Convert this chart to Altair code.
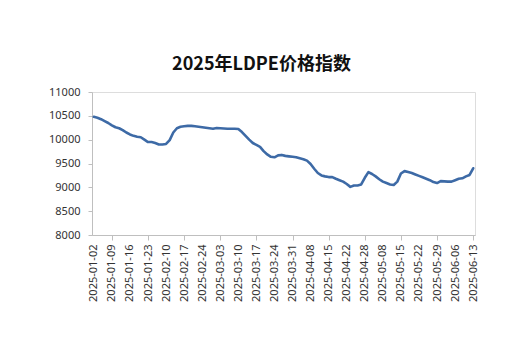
import json
import altair as alt
import pandas as pd

title_text = "2025年LDPE价格指数"

dates = [
    "2025-01-02", "2025-01-03", "2025-01-06", "2025-01-07", "2025-01-08",
    "2025-01-09", "2025-01-10", "2025-01-13", "2025-01-14", "2025-01-15",
    "2025-01-16", "2025-01-17", "2025-01-20", "2025-01-21", "2025-01-22",
    "2025-01-23", "2025-01-24", "2025-01-27", "2025-02-06", "2025-02-07",
    "2025-02-10", "2025-02-11", "2025-02-12", "2025-02-13", "2025-02-14",
    "2025-02-17", "2025-02-18", "2025-02-19", "2025-02-20", "2025-02-21",
    "2025-02-24", "2025-02-25", "2025-02-26", "2025-02-27", "2025-02-28",
    "2025-03-03", "2025-03-04", "2025-03-05", "2025-03-06", "2025-03-07",
    "2025-03-10", "2025-03-11", "2025-03-12", "2025-03-13", "2025-03-14",
    "2025-03-17", "2025-03-18", "2025-03-19", "2025-03-20", "2025-03-21",
    "2025-03-24", "2025-03-25", "2025-03-26", "2025-03-27", "2025-03-28",
    "2025-03-31", "2025-04-01", "2025-04-02", "2025-04-03", "2025-04-07",
    "2025-04-08", "2025-04-09", "2025-04-10", "2025-04-11", "2025-04-14",
    "2025-04-15", "2025-04-16", "2025-04-17", "2025-04-18", "2025-04-21",
    "2025-04-22", "2025-04-23", "2025-04-24", "2025-04-25", "2025-04-27",
    "2025-04-28", "2025-04-29", "2025-04-30", "2025-05-06", "2025-05-07",
    "2025-05-08", "2025-05-09", "2025-05-12", "2025-05-13", "2025-05-14",
    "2025-05-15", "2025-05-16", "2025-05-19", "2025-05-20", "2025-05-21",
    "2025-05-22", "2025-05-23", "2025-05-26", "2025-05-27", "2025-05-28",
    "2025-05-29", "2025-05-30", "2025-06-03", "2025-06-04", "2025-06-05",
    "2025-06-06", "2025-06-09", "2025-06-10", "2025-06-11", "2025-06-12",
    "2025-06-13",
]

index_values = [
    10480, 10460, 10430, 10390, 10350,
    10300, 10260, 10240, 10200, 10150,
    10110, 10080, 10060, 10050, 10000,
    9950, 9950, 9930, 9900, 9900,
    9910, 9990, 10150, 10240, 10270,
    10280, 10290, 10290, 10280, 10270,
    10260, 10250, 10240, 10230, 10245,
    10240, 10235, 10230, 10230, 10230,
    10225, 10160, 10080, 10000, 9930,
    9890, 9850, 9760, 9690, 9640,
    9630, 9670, 9680, 9660, 9650,
    9640, 9630, 9610, 9590, 9560,
    9490, 9390, 9300, 9250, 9230,
    9215, 9215, 9180, 9150, 9120,
    9070, 9010, 9040, 9040, 9060,
    9200, 9320, 9280, 9230, 9170,
    9120, 9090, 9060, 9050, 9120,
    9290, 9340, 9320, 9300, 9270,
    9240, 9210, 9180, 9150, 9110,
    9090, 9130, 9125, 9120, 9120,
    9150, 9180, 9190, 9230, 9260,
    9400,
]

label_dates = [
    "2025-01-02", "2025-01-09", "2025-01-16", "2025-01-23", "2025-02-10",
    "2025-02-17", "2025-02-24", "2025-03-03", "2025-03-10", "2025-03-17",
    "2025-03-24", "2025-03-31", "2025-04-08", "2025-04-15", "2025-04-22",
    "2025-04-28", "2025-05-08", "2025-05-15", "2025-05-22", "2025-05-29",
    "2025-06-06", "2025-06-13",
]

tick_dates = [
    "2025-01-09", "2025-01-23", "2025-02-17", "2025-03-03", "2025-03-17",
    "2025-03-31", "2025-04-15", "2025-04-28", "2025-05-15", "2025-05-29",
    "2025-06-13",
]

y_ticks = [8000, 8500, 9000, 9500, 10000, 10500, 11000]

df = pd.DataFrame({"date": dates, "value": index_values})

tick_test = "indexof(" + json.dumps(tick_dates) + ", datum.value) >= 0"

label_font = "Noto Sans"
axis_grey = "#BFBFBF"
text_col = "#333333"

chart = (
    alt.Chart(df)
    .mark_line(color="#3D6AA6", strokeWidth=2.6, strokeJoin="round", strokeCap="round")
    .encode(
        x=alt.X(
            "date:O",
            sort=None,
            scale=alt.Scale(type="point", padding=0.5),
            axis=alt.Axis(
                title=None,
                values=label_dates,
                labelAngle=270,
                labelFont=label_font,
                labelFontSize=11,
                labelColor=text_col,
                labelPadding=4,
                labelOverlap=False,
                domainColor=axis_grey,
                tickColor=axis_grey,
                tickSize=5,
                tickOpacity={"condition": {"test": tick_test, "value": 1}, "value": 0},
                grid=False,
            ),
        ),
        y=alt.Y(
            "value:Q",
            scale=alt.Scale(domain=[8000, 11000], nice=False, zero=False),
            axis=alt.Axis(
                title=None,
                values=y_ticks,
                format="d",
                labelFont=label_font,
                labelFontSize=11,
                labelColor=text_col,
                labelPadding=8,
                domainColor=axis_grey,
                tickColor=axis_grey,
                tickSize=4,
                grid=False,
            ),
        ),
    )
    .properties(
        width=383,
        height=143,
        title=alt.TitleParams(
            text=title_text,
            font="Noto Sans CJK SC",
            fontSize=18,
            fontWeight="bold",
            color="#111111",
            anchor="middle",
            offset=12,
            dx=-22,
        ),
        autosize=alt.AutoSizeParams(type="none"),
        padding={"left": 92, "top": 92, "right": 52, "bottom": 122},
    )
    .configure_view(stroke=None)
    .configure(background="white")
)

chart.save("out.html", embed_options={"renderer": "svg", "actions": False})
